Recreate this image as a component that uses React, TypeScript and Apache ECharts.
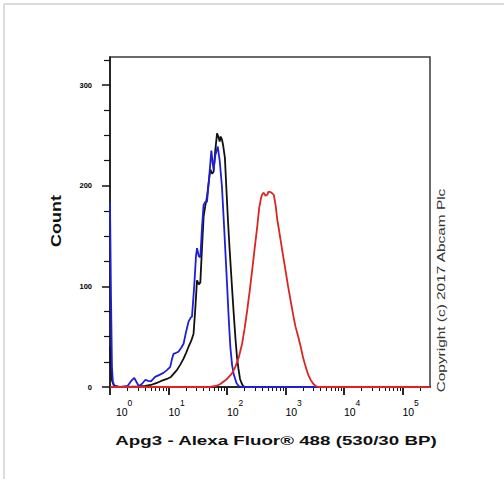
import React, { useEffect, useRef } from 'react';
import * as echarts from 'echarts';

// ---- data ----
const xMin = 1;
const xMax = 295000;
const yMax = 328;

const xMajorTicks = [1, 10, 100, 1000, 10000, 100000];
const xMinorMultipliers = [2, 3, 4, 5, 6, 7, 8, 9];
const yMajorTicks = [0, 100, 200, 300];
const yMinorTicks = [25, 50, 75, 125, 150, 175, 225, 250, 275, 325];

const blackX = [1, 1.06, 1.15, 1.4, 2, 3, 4, 5, 6.3, 7.5, 9.4, 11, 12.2, 14, 15.8, 18, 20, 22, 24.5, 26.8, 28.5, 30.7, 33, 35, 37.5, 39.8, 42.5, 45.5, 49, 52, 55.5, 59, 63, 67.6, 71, 75, 78, 82, 86, 92, 98, 104, 110, 117, 124, 132, 140, 148, 157, 167, 177, 188, 205, 295000];
const blackY = [40, 8, 2, 0, 0, 0.5, 1, 2, 4, 6, 8, 10, 13, 17, 22, 28, 34, 40, 46, 53, 75, 106, 102, 104, 140, 169, 180, 189, 205, 216, 212, 214, 235, 252, 249, 244, 249, 246, 240, 228, 195, 165, 140, 115, 92, 68, 47, 30, 18, 8, 4, 1, 0, 0];

const blueX = [1, 1.04, 1.08, 1.12, 1.2, 1.5, 2, 2.3, 2.6, 2.9, 3.1, 3.5, 4, 4.5, 5, 5.9, 7, 8.2, 9.5, 10.7, 11.5, 12.2, 13.5, 14.8, 16.5, 18.1, 20, 22, 24, 25.2, 27.5, 29.5, 30.7, 33, 35, 37.5, 39.8, 42.5, 45.5, 49, 54, 57, 59, 63, 69.5, 75, 82, 90, 100, 107, 114, 122, 130, 145, 158, 175, 295000];
const blueY = [184, 90, 20, 5, 1, 0, 1, 6, 9, 4, 1, 3, 7, 6, 5.5, 10, 12, 14, 17, 20, 28, 33, 34, 35, 39, 43, 55, 65, 69, 70, 100, 130, 138, 130, 129, 160, 181, 184, 184, 205, 235, 222, 216, 230, 239, 225, 199, 155, 103, 68, 40, 22, 13, 4, 1, 0, 0];

const redX = [1, 50, 65, 77, 100, 120, 139, 160, 181, 200, 221, 245, 269, 300, 328, 355, 385, 405, 426, 455, 487, 510, 539, 580, 631, 680, 724, 770, 824, 900, 1000, 1100, 1222, 1350, 1480, 1650, 1820, 2000, 2213, 2450, 2692, 3000, 3280, 3600, 295000];
const redY = [0, 0, 1, 3, 8, 13, 20, 30, 43, 58, 76, 96, 116, 140, 159, 178, 189, 192, 193, 190, 191, 194, 194, 193, 191, 180, 166, 157, 146, 132, 116, 101, 86, 72, 60, 50, 40, 29, 20, 12, 7, 3, 1, 0, 0];

const xTitle = 'Apg3 - Alexa Fluor® 488 (530/30 BP)';
const yTitle = 'Count';
const copyright = 'Copyright (c) 2017 Abcam Plc';

const FONT = '"Liberation Sans", Arial, Helvetica, sans-serif';

function zip(xs: number[], ys: number[]) {
  return xs.map((x, i) => [x, ys[i]]);
}

const xMinorTicks: number[] = [];
xMajorTicks.forEach((p) => {
  xMinorMultipliers.forEach((m) => {
    const v = p * m;
    if (v <= xMax) xMinorTicks.push(v);
  });
});

export default function App() {
  const ref = useRef<HTMLDivElement>(null);
  useEffect(() => {
    const chart = echarts.init(ref.current!, null, { renderer: 'svg' });
    const lineSeries = (name: string, data: number[][], color: string, z: number) => ({
      name,
      type: 'line',
      xAxisIndex: 0,
      yAxisIndex: 0,
      data,
      showSymbol: false,
      symbol: 'none',
      lineStyle: { color, width: 1.8 },
      z,
    });
    chart.setOption({
      animation: false,
      backgroundColor: '#ffffff',
      grid: {
        left: 110,
        top: 57,
        width: 320,
        height: 330,
        show: true,
        borderColor: '#3a3a3a',
        borderWidth: 1.5,
        backgroundColor: 'transparent',
      },
      xAxis: [
        {
          type: 'log',
          logBase: 10,
          min: xMin,
          max: xMax,
          position: 'bottom',
          axisLine: { show: true, lineStyle: { color: '#111', width: 1.5 } },
          axisTick: { show: true, customValues: xMajorTicks, length: 8, lineStyle: { color: '#111', width: 1.8 } },
          splitLine: { show: false },
          axisLabel: {
            show: true,
            customValues: xMajorTicks,
            align: 'left',
            verticalAlign: 'top',
            margin: 12,
            formatter: (v: number) => {
              const e = Math.round(Math.log10(v));
              return e === 0 ? `{s0|${e}}\n{b0|10}` : `{s|${e}}\n{b|10}`;
            },
            rich: {
              b: { fontSize: 10.5, fontFamily: FONT, color: '#000', lineHeight: 9, align: 'left' },
              b0: { fontSize: 10.5, fontFamily: FONT, color: '#000', lineHeight: 9, align: 'left', padding: [0, 0, 0, 6] },
              s: { fontSize: 8.5, fontFamily: FONT, color: '#000', lineHeight: 8, align: 'left', padding: [0, 0, 0, 11.5] },
              s0: { fontSize: 8.5, fontFamily: FONT, color: '#000', lineHeight: 8, align: 'left', padding: [0, 0, 0, 17.5] },
            },
          },
        },
        {
          type: 'log',
          logBase: 10,
          min: xMin,
          max: xMax,
          position: 'bottom',
          axisLine: { show: false },
          axisTick: { show: true, customValues: xMinorTicks, length: 4, lineStyle: { color: '#111', width: 1 } },
          axisLabel: { show: false },
          splitLine: { show: false },
        },
      ],
      yAxis: [
        {
          type: 'value',
          min: 0,
          max: yMax,
          position: 'left',
          axisLine: { show: true, lineStyle: { color: '#111', width: 1.5 } },
          axisTick: { show: true, customValues: yMajorTicks, length: 8, lineStyle: { color: '#111', width: 1.5 } },
          axisLabel: {
            show: true,
            customValues: yMajorTicks,
            margin: 18,
            fontSize: 7.5,
            fontWeight: 'bold',
            fontFamily: FONT,
            color: '#000',
          },
          splitLine: { show: false },
        },
        {
          type: 'value',
          min: 0,
          max: yMax,
          position: 'left',
          axisLine: { show: false },
          axisTick: { show: true, customValues: yMinorTicks, length: 6, lineStyle: { color: '#111', width: 1.2 } },
          axisLabel: { show: false },
          splitLine: { show: false },
        },
      ],
      series: [
        lineSeries('Black', zip(blackX, blackY), '#111111', 2),
        lineSeries('Blue', zip(blueX, blueY), '#1f1fd6', 3),
        lineSeries('Red', zip(redX, redY), '#dc2424', 4),
      ],
      graphic: [
        { type: 'line', shape: { x1: 4, y1: 4, x2: 504, y2: 4 }, style: { stroke: '#dcdcdc', lineWidth: 2 } },
        { type: 'line', shape: { x1: 4, y1: 4, x2: 4, y2: 479 }, style: { stroke: '#dcdcdc', lineWidth: 2 } },
        {
          type: 'text',
          x: 276,
          y: 441,
          scaleX: 1.5,
          style: {
            text: xTitle,
            font: `bold 12.5px ${FONT}`,
            fill: '#111',
            align: 'center',
            verticalAlign: 'middle',
            textAlign: 'center',
            textVerticalAlign: 'middle',
          },
        },
        {
          type: 'text',
          x: 56,
          y: 221,
          rotation: Math.PI / 2,
          scaleX: 1.2,
          style: {
            text: yTitle,
            font: `bold 15px ${FONT}`,
            fill: '#111',
            align: 'center',
            verticalAlign: 'middle',
            textAlign: 'center',
            textVerticalAlign: 'middle',
          },
        },
        {
          type: 'text',
          x: 441.5,
          y: 290.5,
          rotation: Math.PI / 2,
          scaleX: 1.4,
          style: {
            text: copyright,
            font: `11px ${FONT}`,
            fill: '#333',
            align: 'center',
            verticalAlign: 'middle',
            textAlign: 'center',
            textVerticalAlign: 'middle',
          },
        },
      ],
    });
    return () => chart.dispose();
  }, []);
  return (
    <div
      ref={ref}
      style={{ position: 'fixed', left: 0, top: 0, width: 504, height: 479, background: '#fff' }}
    />
  );
}
